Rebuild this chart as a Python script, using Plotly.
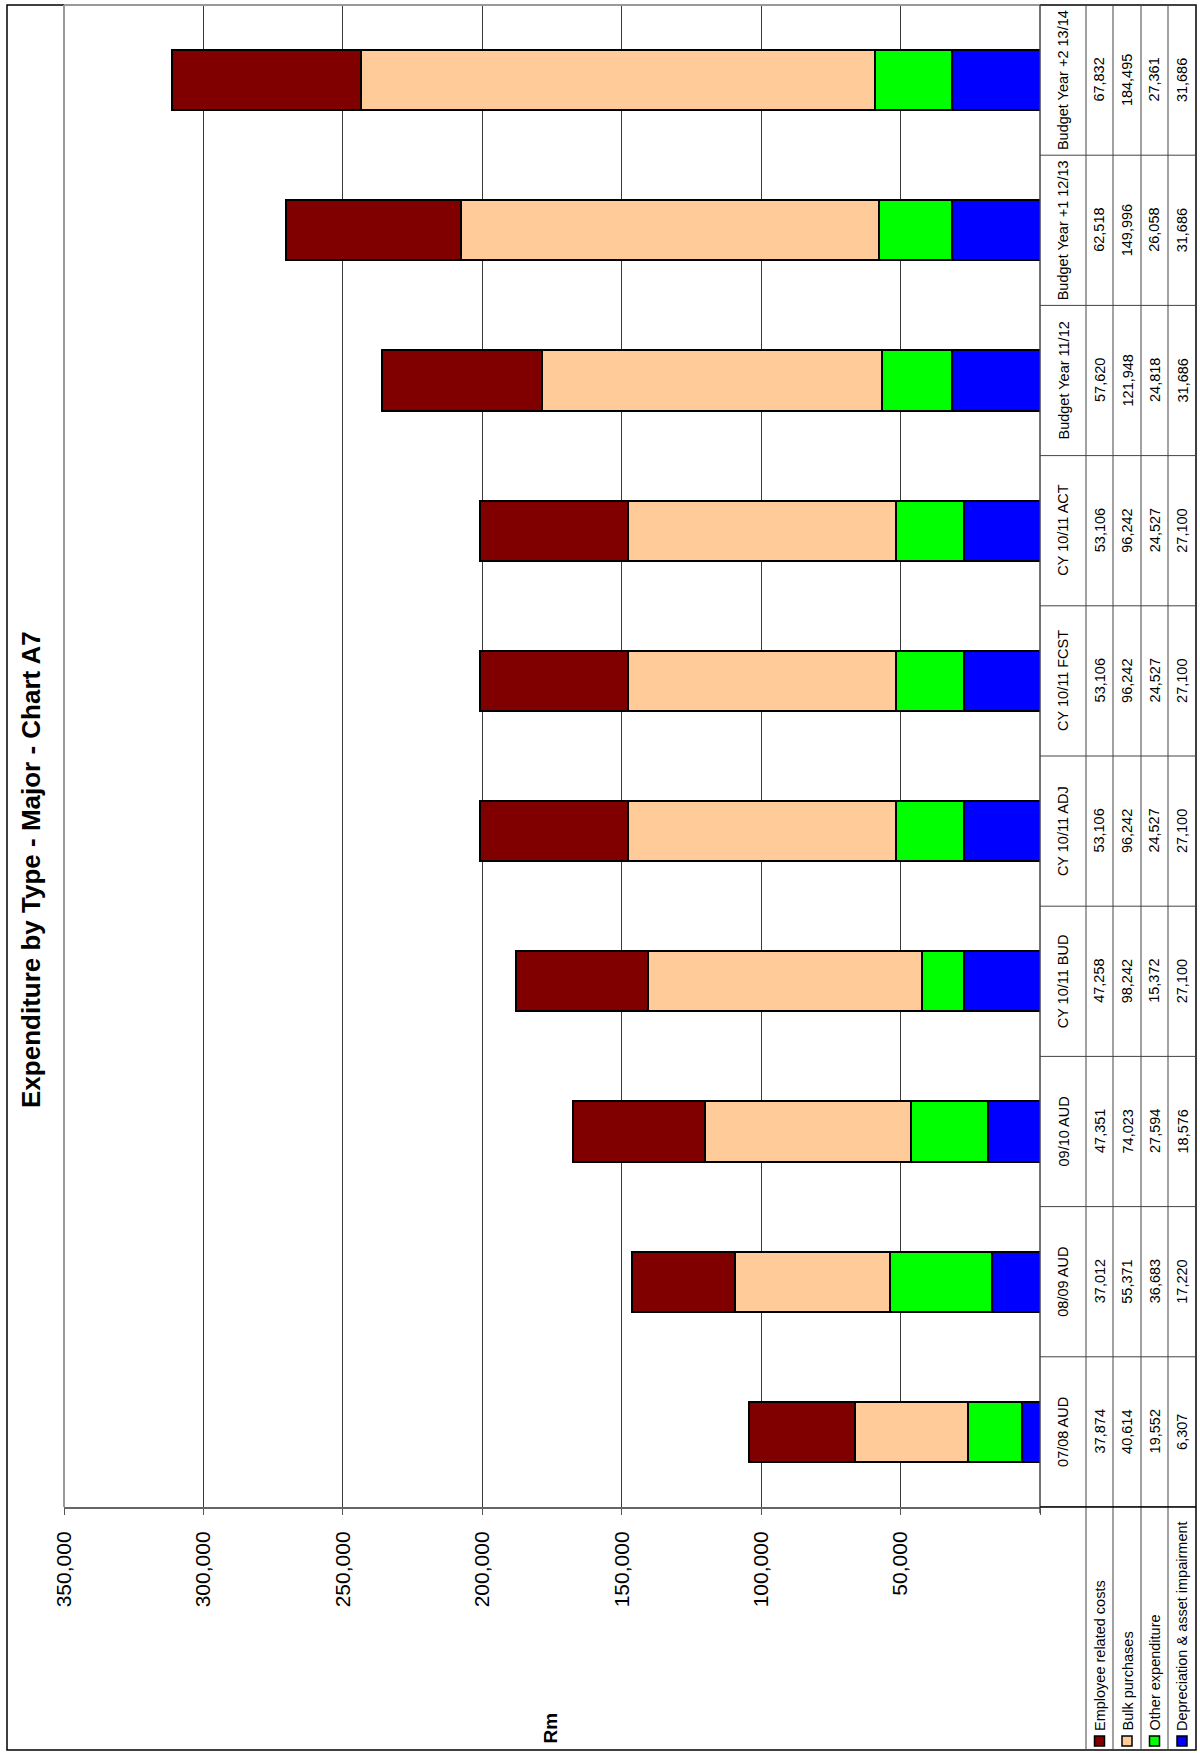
import plotly.graph_objects as go

# Periods (drawn bottom to top) and expenditure per type, in Rm
categories = ["07/08 AUD", "08/09 AUD", "09/10 AUD", "CY 10/11 BUD", "CY 10/11 ADJ",
              "CY 10/11 FCST", "CY 10/11 ACT", "Budget Year 11/12",
              "Budget Year +1 12/13", "Budget Year +2 13/14"]
employee_costs = [37874, 37012, 47351, 47258, 53106, 53106, 53106, 57620, 62518, 67832]
bulk_purchases = [40614, 55371, 74023, 98242, 96242, 96242, 96242, 121948, 149996, 184495]
other_expenditure = [19552, 36683, 27594, 15372, 24527, 24527, 24527, 24818, 26058, 27361]
depreciation = [6307, 17220, 18576, 27100, 27100, 27100, 27100, 31686, 31686, 31686]

series_names = ["Employee related costs", "Bulk purchases", "Other expenditure",
                "Depreciation &amp; asset impairment"]
series_values = [employee_costs, bulk_purchases, other_expenditure, depreciation]
series_colors = ["#800000", "#FFCC99", "#00FF00", "#0000FF"]

tick_values = [0, 50000, 100000, 150000, 200000, 250000, 300000, 350000]
tick_labels = ["", "50,000", "100,000", "150,000", "200,000", "250,000", "300,000", "350,000"]

TITLE = "Expenditure by Type - Major - Chart A7"
AXIS_TITLE = "Rm"
FONT = "Liberation Sans, Arial, sans-serif"

# page geometry (pixels)
W, H = 1200, 1753
PL, PR, PT, PB = 64, 1040, 5, 1507          # plot area edges
ROW_EDGES = [1040, 1086, 1113, 1141, 1168, 1196]  # data-table rows (rotated)
LABEL_ROW_C = (ROW_EDGES[0] + ROW_EDGES[1]) / 2
VALUE_ROW_C = [(ROW_EDGES[i] + ROW_EDGES[i + 1]) / 2 for i in range(1, 5)]


def px(x):
    return (x - PL) / (PR - PL)


def py(y):
    return (PB - y) / (PB - PT)


fig = go.Figure()

# stack outward from zero: depreciation first, employee costs last
for name, vals, col in reversed(list(zip(series_names, series_values, series_colors))):
    fig.add_trace(go.Bar(
        y=categories, x=vals, name=name, orientation="h",
        marker=dict(color=col, line=dict(color="black", width=2)),
        showlegend=False,
    ))

shapes = []
annotations = []

# outer frame
shapes.append(dict(type="rect", xref="paper", yref="paper",
                   x0=px(7), x1=px(1196), y0=py(5), y1=py(1750),
                   line=dict(color="black", width=1.5)))
# plot area border (left / top) and right edge with zero tick
shapes.append(dict(type="line", xref="paper", yref="paper", x0=0, x1=0, y0=0, y1=1,
                   line=dict(color="#999999", width=2)))
shapes.append(dict(type="line", xref="paper", yref="paper", x0=0, x1=1, y0=1, y1=1,
                   line=dict(color="#999999", width=2)))
shapes.append(dict(type="line", xref="paper", yref="paper", x0=1, x1=1, y0=py(1513), y1=1,
                   line=dict(color="#444444", width=1.5)))

# data table grid
for xe in ROW_EDGES[1:-1]:
    shapes.append(dict(type="line", xref="paper", yref="paper",
                       x0=px(xe), x1=px(xe), y0=py(1750), y1=py(5),
                       line=dict(color="#444444", width=1)))
for i in range(len(categories) + 1):
    shapes.append(dict(type="line", xref="paper", yref="y",
                       x0=px(ROW_EDGES[0]), x1=px(ROW_EDGES[-1]), y0=i - 0.5, y1=i - 0.5,
                       line=dict(color="#444444", width=1)))
shapes.append(dict(type="line", xref="paper", yref="paper",
                   x0=px(ROW_EDGES[0]), x1=px(ROW_EDGES[-1]), y0=0, y1=0,
                   line=dict(color="black", width=1.5)))

# data table text
for i, cat in enumerate(categories):
    annotations.append(dict(xref="paper", yref="y", x=px(LABEL_ROW_C), y=cat,
                            text=cat, textangle=-90, showarrow=False,
                            xanchor="center", yanchor="middle",
                            font=dict(family=FONT, size=14.5, color="black")))
    for r, vals in enumerate(series_values):
        annotations.append(dict(xref="paper", yref="y", x=px(VALUE_ROW_C[r]), y=cat,
                                text=f"{vals[i]:,}", textangle=-90, showarrow=False,
                                xanchor="center", yanchor="middle",
                                font=dict(family=FONT, size=14.5, color="black")))

# legend keys in the table rows below the axis
for r, (name, col) in enumerate(zip(series_names, series_colors)):
    cx = VALUE_ROW_C[r]
    shapes.append(dict(type="rect", xref="paper", yref="paper",
                       x0=px(cx - 5), x1=px(cx + 5), y0=py(1746), y1=py(1736),
                       fillcolor=col, line=dict(color="black", width=1.5)))
    annotations.append(dict(xref="paper", yref="paper", x=px(cx), y=py(1733),
                            text=name, textangle=-90, showarrow=False,
                            xanchor="center", yanchor="bottom",
                            font=dict(family=FONT, size=14.5, color="black")))

# titles
annotations.append(dict(xref="paper", yref="paper", x=px(31), y=py(870),
                        text=f"<b>{TITLE}</b>", textangle=-90, showarrow=False,
                        xanchor="center", yanchor="middle",
                        font=dict(family=FONT, size=26, color="black")))
annotations.append(dict(xref="paper", yref="paper", x=px(550), y=py(1746),
                        text=f"<b>{AXIS_TITLE}</b>", textangle=-90, showarrow=False,
                        xanchor="center", yanchor="bottom",
                        font=dict(family=FONT, size=19, color="black")))

fig.update_layout(
    width=W, height=H,
    margin=dict(l=PL, r=W - PR, t=PT, b=H - PB, pad=0),
    paper_bgcolor="white", plot_bgcolor="white",
    barmode="stack", bargap=0.6,
    showlegend=False,
    shapes=shapes, annotations=annotations,
    xaxis=dict(range=[350000, 0], tickvals=tick_values, ticktext=tick_labels,
               tickangle=-90, ticks="outside", ticklen=6, tickcolor="#555555",
               ticklabelstandoff=8,
               showgrid=True, gridcolor="#3a3a3a", gridwidth=1, zeroline=False,
               showline=True, linecolor="#666666", linewidth=2,
               tickfont=dict(family=FONT, size=21, color="black")),
    yaxis=dict(range=[-0.5, len(categories) - 0.5], showticklabels=False,
               showgrid=False, zeroline=False, showline=False, ticks=""),
)

fig.write_html("out.html")
